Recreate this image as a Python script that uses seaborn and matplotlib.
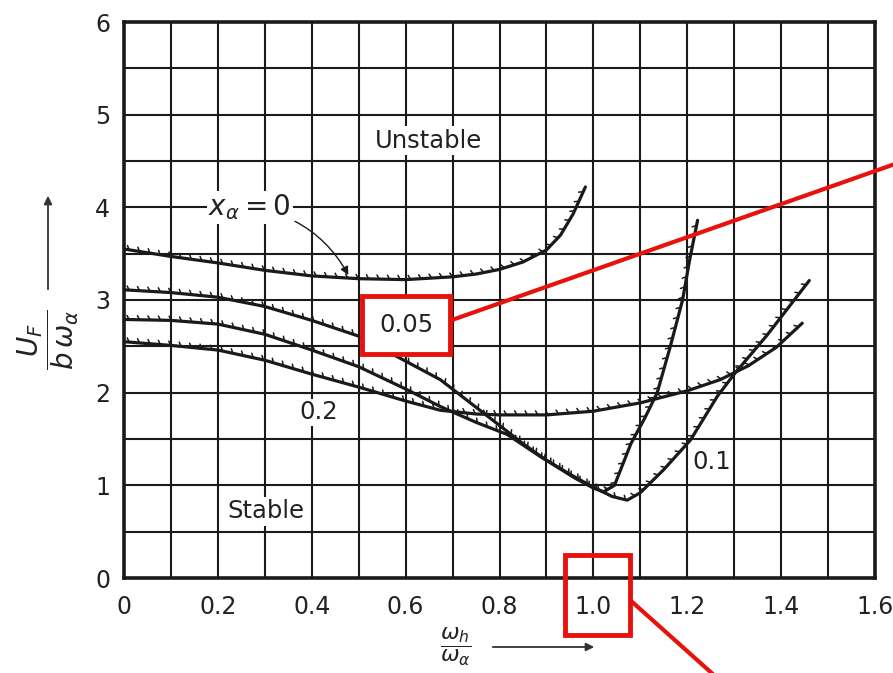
import numpy as np
import pandas as pd
import seaborn as sns
import matplotlib
matplotlib.use("Agg")
import matplotlib.pyplot as plt
from matplotlib import patheffects
from matplotlib.patches import Rectangle, FancyArrowPatch
from matplotlib.ticker import MultipleLocator
from matplotlib.lines import Line2D

# ---- data ----
x_a0 = [0, 0.1, 0.2, 0.3, 0.4, 0.5, 0.6, 0.7, 0.75, 0.8, 0.85, 0.9, 0.93, 0.957, 0.983]
y_a0 = [3.55, 3.47, 3.40, 3.32, 3.26, 3.23, 3.22, 3.25, 3.28, 3.33, 3.41, 3.54, 3.70, 3.93, 4.22]

x_a005 = [0, 0.1, 0.2, 0.3, 0.4, 0.5, 0.6, 0.674, 0.766, 0.85, 0.9, 0.96, 1.0, 1.022,
          1.045, 1.08, 1.11, 1.136, 1.164, 1.19, 1.205, 1.222]
y_a005 = [3.11, 3.08, 3.03, 2.93, 2.78, 2.61, 2.34, 2.14, 1.78, 1.45, 1.27, 1.08, 0.97, 0.93,
          1.00, 1.45, 1.73, 2.00, 2.50, 3.00, 3.43, 3.86]

x_a01 = [0, 0.1, 0.2, 0.3, 0.4, 0.5, 0.6, 0.674, 0.75, 0.816, 0.887, 0.95, 1.0, 1.04, 1.072,
         1.1, 1.15, 1.207, 1.264, 1.30, 1.37, 1.46]
y_a01 = [2.79, 2.78, 2.74, 2.63, 2.46, 2.28, 2.04, 1.85, 1.68, 1.55, 1.31, 1.12, 0.98, 0.88, 0.84,
         0.92, 1.17, 1.49, 1.96, 2.20, 2.62, 3.21]

x_a02 = [0, 0.1, 0.2, 0.3, 0.4, 0.5, 0.6, 0.674, 0.75, 0.8, 0.9, 1.0, 1.1, 1.2, 1.27, 1.33,
         1.39, 1.445]
y_a02 = [2.55, 2.51, 2.46, 2.35, 2.20, 2.06, 1.91, 1.81, 1.77, 1.76, 1.76, 1.80, 1.89, 2.02, 2.14,
         2.29, 2.49, 2.75]

x_ticklabels = ["0", "0.2", "0.4", "0.6", "0.8", "1.0", "1.2", "1.4", "1.6"]
y_ticklabels = ["0", "1", "2", "3", "4", "5", "6"]

series = [("0", x_a0, y_a0), ("0.05", x_a005, y_a005),
          ("0.1", x_a01, y_a01), ("0.2", x_a02, y_a02)]
df = pd.concat([pd.DataFrame({"x": xs, "y": ys, "xa": name}) for name, xs, ys in series],
               ignore_index=True)

# ---- style ----
sns.set_style("white")
plt.rcParams["font.family"] = ["DejaVu Sans"]
plt.rcParams["mathtext.fontset"] = "dejavusans"

W, H = 893, 673
fig = plt.figure(figsize=(W / 100, H / 100), dpi=100)
ax = fig.add_axes([124 / W, 1 - 578 / H, (875 - 124) / W, (578 - 22) / H])

ink = "#1a1a1a"
sns.lineplot(data=df, x="x", y="y", hue="xa", units="xa", estimator=None, sort=False,
             palette=[ink] * 4, legend=False, ax=ax, linewidth=2.3, zorder=3)
for ln in ax.lines:
    ln.set_solid_joinstyle("round")
    ln.set_path_effects([patheffects.withTickedStroke(angle=120, spacing=7.5, length=0.45,
                                                      linewidth=1.1)])

ax.set_xlim(0, 1.6)
ax.set_ylim(0, 6)
ax.set_xticks(np.arange(0, 1.61, 0.2))
ax.set_xticklabels(x_ticklabels)
ax.set_yticks(np.arange(0, 6.1, 1))
ax.set_yticklabels(y_ticklabels)
ax.xaxis.set_minor_locator(MultipleLocator(0.1))
ax.yaxis.set_minor_locator(MultipleLocator(0.5))
ax.grid(which="both", color=ink, linewidth=1.5)
ax.set_axisbelow(True)
ax.tick_params(which="both", length=0, labelsize=17, colors="#222222")
ax.tick_params(axis="x", pad=12)
ax.tick_params(axis="y", pad=10)
for s in ax.spines.values():
    s.set_color(ink)
    s.set_linewidth(2.6)
ax.set_xlabel("")
ax.set_ylabel("")

# ---- labels inside plot ----
tk = dict(fontsize=17.5, color="#222222", ha="center", va="center", zorder=5)
ax.text(0.648, 4.72, "Unstable", bbox=dict(fc="white", ec="none", pad=2), **tk)
ax.text(0.303, 0.72, "Stable", bbox=dict(fc="white", ec="none", pad=2), **tk)
ax.text(0.414, 1.79, "0.2", bbox=dict(fc="white", ec="none", pad=1), **tk)
ax.text(1.252, 1.25, "0.1", bbox=dict(fc="white", ec="none", pad=1), **tk)
ax.text(0.601, 2.73, "0.05",
        bbox=dict(boxstyle="square,pad=0.7", fc="white", ec="#e8120c", lw=3.5), **tk)
ax.annotate(r"$x_\alpha = 0$", xy=(0.478, 3.27), xytext=(0.268, 4.0),
            fontsize=20, ha="center", va="center", color="#222222", zorder=5,
            bbox=dict(fc="white", ec="none", pad=1),
            arrowprops=dict(arrowstyle="-|>", color=ink, lw=1.0,
                            connectionstyle="arc3,rad=-0.25", mutation_scale=12,
                            shrinkA=2, shrinkB=0))

# ---- axis titles with arrows ----
fig.text(48 / W, 1 - 340 / H, r"$\dfrac{U_F}{b\,\omega_\alpha}$", rotation=90,
         fontsize=20, ha="center", va="center", color="#222222")
fig.add_artist(FancyArrowPatch(
    (48 / W, 1 - 292 / H), (48 / W, 1 - 193 / H), transform=fig.transFigure,
    arrowstyle="-|>", mutation_scale=12, color="#333333", lw=1.3))
fig.text(456 / W, 1 - 647 / H, r"$\dfrac{\omega_h}{\omega_\alpha}$",
         fontsize=16, ha="center", va="center", color="#222222")
fig.add_artist(FancyArrowPatch(
    (490 / W, 1 - 647 / H), (597 / W, 1 - 647 / H), transform=fig.transFigure,
    arrowstyle="-|>", mutation_scale=12, color="#333333", lw=1.3))

# ---- red highlight annotations ----
red = "#e8120c"
fig.add_artist(Rectangle((565 / W, 1 - 635 / H), 65 / W, 80 / H, transform=fig.transFigure,
                         fill=False, ec=red, lw=3.5, zorder=10))
fig.add_artist(Line2D([452 / W, 895 / W], [1 - 320 / H, 1 - 164 / H],
                      transform=fig.transFigure, color=red, lw=3, zorder=10))
fig.add_artist(Line2D([630 / W, 715 / W], [1 - 600 / H, 1 - 676 / H],
                      transform=fig.transFigure, color=red, lw=3, zorder=10))

fig.savefig("out.png", dpi=100, facecolor="white")
